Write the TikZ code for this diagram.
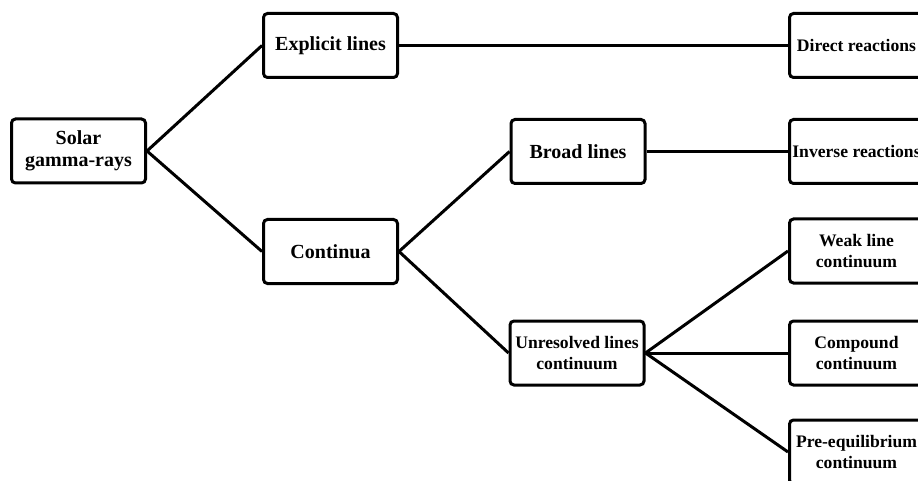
\documentclass[tikz,border=0pt]{standalone}
\usepackage{fontspec}
\setmainfont{Liberation Serif}
\begin{document}
\begin{tikzpicture}[x=1pt,y=-1pt,
  frame/.style={draw=black, line width=3pt, rounded corners=4pt, minimum width=134pt, minimum height=64pt, inner sep=0pt},
  box/.style={frame, label={[txt]center:{#1}}},
  sbox/.style={frame, label={[stxt]center:{#1}}},
  txt/.style={align=center, inner sep=0pt, font=\fontsize{20}{21.5}\selectfont\bfseries},
  stxt/.style={align=center, inner sep=0pt, font=\fontsize{17.6}{21}\selectfont\bfseries},
  link/.style={line width=3pt}]
\useasboundingbox (0,0) rectangle (918,481);
\clip (0,0) rectangle (918,481);
\node[box={Solar\\gamma-rays}] (solar) at (78.5,151) {};
\node[box={Explicit lines}] (explicit) at (330.5,45.5) {};
\node[box={Continua}] (continua) at (330.5,251.5) {};
\node[box={Broad lines}] (broad) at (578,151.5) {};
\node[sbox={Unresolved lines\\continuum}] (unres) at (577,353) {};
\node[sbox={Direct reactions}] (direct) at (856.5,45.5) {};
\node[sbox={Inverse reactions}] (inverse) at (856.5,151.5) {};
\node[sbox={Weak line\\continuum}] (weak) at (856.5,251) {};
\node[sbox={Compound\\continuum}] (compound) at (856.5,353) {};
\node[sbox={Pre-equilibrium\\continuum}] (preeq) at (856.5,452) {};
\draw[link] (solar.east) -- (explicit.west);
\draw[link] (solar.east) -- (continua.west);
\draw[link] (explicit.east) -- (direct.west);
\draw[link] (continua.east) -- (broad.west);
\draw[link] (continua.east) -- (unres.west);
\draw[link] (broad.east) -- (inverse.west);
\draw[link] (unres.east) -- (weak.west);
\draw[link] (unres.east) -- (compound.west);
\draw[link] (unres.east) -- (preeq.west);
\end{tikzpicture}
\end{document}
